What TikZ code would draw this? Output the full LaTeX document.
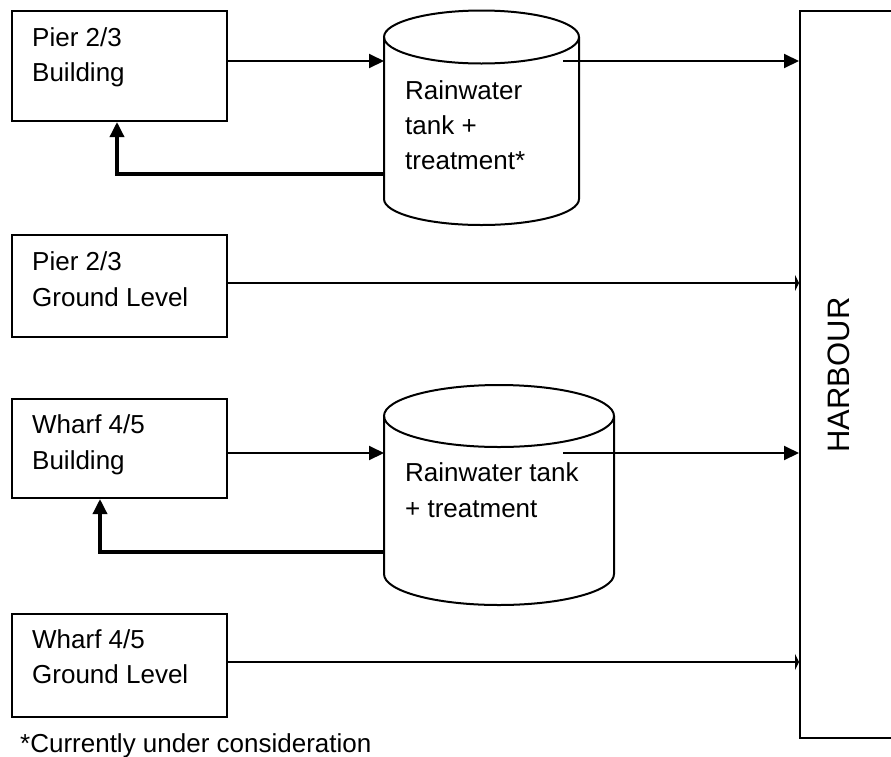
\documentclass[tikz,border=0pt]{standalone}
\usepackage{fontspec}
\setmainfont{Liberation Sans}
\usetikzlibrary{arrows.meta}
\begin{document}
\begin{tikzpicture}[x=1pt,y=-1pt,
  box/.style={draw, line width=2pt, inner sep=0pt, minimum width=215pt, anchor=north west},
  ghost/.style={inner sep=0pt, anchor=north west},
  lbl/.style={font=\fontsize{26}{30}\selectfont, inner sep=0pt, anchor=base west},
  cyl/.style={line width=2pt},
  conn/.style={line width=2pt, -{Triangle[length=15pt,width=14pt]}},
  fb/.style={line width=3.4pt, -{Triangle[length=15pt,width=14pt]}},
  tick/.style={line width=2pt, -{Triangle[length=4pt,width=16pt]}}]
\useasboundingbox (0,0) rectangle (891,756);
\clip (0,0) rectangle (891,756);

% boxes
\node[box, minimum height=110pt] (b1) at (11,10) {};
\node[box, minimum height=102pt] (b2) at (11,234) {};
\node[box, minimum height=99pt]  (b3) at (11,398) {};
\node[box, minimum height=103pt] (b4) at (11,613) {};
\node[draw, line width=2pt, inner sep=0pt, minimum width=140pt, minimum height=727pt, anchor=north west] (h) at (799,10) {};

% labels
\node[lbl] (b1a) at (32,46) {Pier 2/3};
\node[lbl] (b1b) at (32,81) {Building};
\node[lbl] (b2a) at (32,270) {Pier 2/3};
\node[lbl] (b2b) at (32,306) {Ground Level};
\node[lbl] (b3a) at (32,433) {Wharf 4/5};
\node[lbl] (b3b) at (32,469) {Building};
\node[lbl] (b4a) at (32,648) {Wharf 4/5};
\node[lbl] (b4b) at (32,683) {Ground Level};
\node[rotate=90, font=\fontsize{31}{31}\selectfont, inner sep=0pt] (hl) at (839,375) {HARBOUR};
\node[lbl] (note) at (20,752) {*Currently under consideration};

% cylinders
\node[ghost, minimum width=195pt, minimum height=216pt] (t1) at (384,10) {};
\draw[cyl] (384,37) -- (384,199) arc[start angle=180, end angle=0, x radius=97.5, y radius=26] -- (579,37);
\draw[cyl] (481.5,37) ellipse[x radius=97.5, y radius=26.5];
\node[lbl] (t1a) at (405,99) {Rainwater};
\node[lbl] (t1b) at (405,134) {tank +};
\node[lbl] (t1c) at (405,169) {treatment*};

\node[ghost, minimum width=230pt, minimum height=220pt] (t2) at (384,385) {};
\draw[cyl] (384,416) -- (384,574) arc[start angle=180, end angle=0, x radius=115, y radius=31] -- (614,416);
\draw[cyl] (499,416) ellipse[x radius=115, y radius=31];
\node[lbl] (t2a) at (405,481) {Rainwater tank};
\node[lbl] (t2b) at (405,517) {+ treatment};

% connectors
\coordinate (y1) at (0,61);
\coordinate (s1) at (563,61);
\coordinate (f1) at (117,174);
\coordinate (y2) at (0,283);
\coordinate (y3) at (0,453);
\coordinate (s3) at (563,453);
\coordinate (f3) at (100,552);
\coordinate (y4) at (0,662);

\draw[conn] (b1.east |- y1) -- (t1.west |- y1);
\draw[conn] (s1) -- (h.west |- s1);
\draw[fb] (t1.west |- f1) -| (b1.south -| f1);
\draw[tick] (b2.east |- y2) -- (h.west |- y2);
\draw[conn] (b3.east |- y3) -- (t2.west |- y3);
\draw[conn] (s3) -- (h.west |- s3);
\draw[fb] (t2.west |- f3) -| (b3.south -| f3);
\draw[tick] (b4.east |- y4) -- (h.west |- y4);
\end{tikzpicture}
\end{document}
